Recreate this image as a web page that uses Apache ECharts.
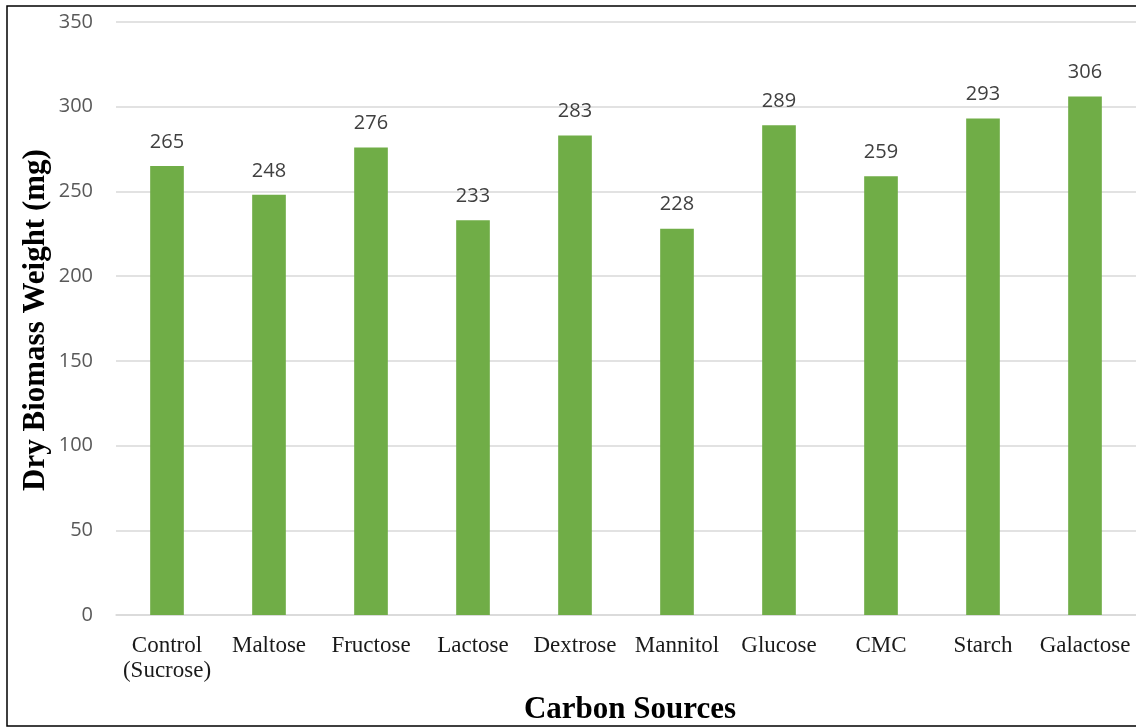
<!DOCTYPE html>
<html>
<head>
<meta charset="utf-8">
<script src="https://cdn.jsdelivr.net/npm/echarts@6/dist/echarts.min.js"></script>
<style>
html, body { margin: 0; padding: 0; background: #fff; }
#main { width: 1136px; height: 728px; }
</style>
</head>
<body>
<div id="main"></div>
<script>
// carbon sources and dry biomass (mg)
var categories = ['Control\n(Sucrose)', 'Maltose', 'Fructose', 'Lactose', 'Dextrose',
    'Mannitol', 'Glucose', 'CMC', 'Starch', 'Galactose'];
var biomass = [265, 248, 276, 233, 283, 228, 289, 259, 293, 306];
var yTicks = [0, 50, 100, 150, 200, 250, 300, 350];

var myChart = echarts.init(document.getElementById('main'));
var option = {
    backgroundColor: '#fff',
    animation: false,
    grid: { left: 116, right: 0, top: 22, bottom: 113 },
    graphic: [
        {
            type: 'rect',
            shape: { x: 7, y: 6, width: 1140, height: 720 },
            style: { fill: 'none', stroke: '#000', lineWidth: 1.5 },
            silent: true
        },
        {
            type: 'text',
            x: 36, y: 320,
            rotation: Math.PI / 2,
            style: {
                text: 'Dry Biomass Weight (mg)',
                font: 'bold 31px "Liberation Serif"',
                fill: '#000',
                align: 'center',
                verticalAlign: 'middle'
            }
        },
        {
            type: 'text',
            x: 630, y: 710,
            style: {
                text: 'Carbon Sources',
                font: 'bold 31px "Liberation Serif"',
                fill: '#000',
                align: 'center',
                verticalAlign: 'middle'
            }
        }
    ],
    xAxis: {
        type: 'category',
        data: categories,
        axisLine: { lineStyle: { color: '#d9d9d9', width: 1.5 } },
        axisTick: { show: false },
        axisLabel: {
            color: '#1a1a1a',
            fontFamily: 'Liberation Serif',
            fontSize: 23,
            lineHeight: 25,
            margin: 18,
            interval: 0
        }
    },
    yAxis: {
        type: 'value',
        min: yTicks[0],
        max: yTicks[yTicks.length - 1],
        interval: 50,
        axisLine: { show: false },
        axisTick: { show: false },
        splitLine: { lineStyle: { color: '#d9d9d9', width: 1.5 } },
        axisLabel: {
            color: '#595959',
            fontFamily: 'Open Sans',
            fontSize: 20,
            margin: 23
        }
    },
    series: [{
        type: 'bar',
        data: biomass,
        barWidth: '33%',
        itemStyle: { color: '#70ad47' },
        label: {
            show: true,
            position: 'top',
            distance: 14,
            color: '#404040',
            fontFamily: 'Open Sans',
            fontSize: 20
        }
    }]
};
myChart.setOption(option);
</script>
</body>
</html>
